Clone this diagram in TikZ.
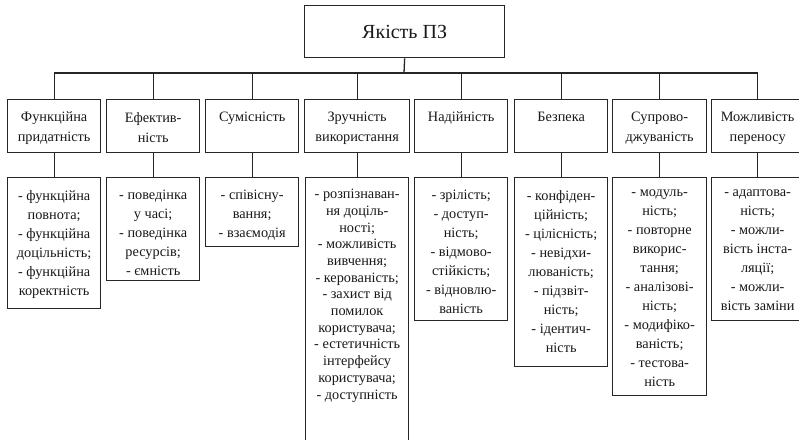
\documentclass[tikz,border=0pt]{standalone}
\usepackage{fontspec}
\setmainfont{Liberation Serif}
\begin{document}
\begin{tikzpicture}[x=1pt,y=-1pt,
  frame/.style={draw=black!85, line width=1.3pt, inner sep=0pt, anchor=north west},
  link/.style={draw=black!85, line width=1.3pt},
  lbl/.style={anchor=north, inner sep=0pt, align=center, text=black!90,
    font=\fontsize{14.3}{19}\selectfont},
  head/.style={lbl, font=\fontsize{14.3}{20}\selectfont},
  tight/.style={font=\fontsize{14.3}{16.7}\selectfont}]
\useasboundingbox[fill=white] (0,0) rectangle (799,439);

% root
\node[frame, minimum width=200, minimum height=52] (top) at (304,5) {};
\node[lbl, anchor=center, font=\fontsize{20}{22}\selectfont] (toptxt) at (top.center) {Якість ПЗ};

% characteristic boxes
\node[frame, minimum width=93, minimum height=53] (r1) at (7,99) {};
\node[frame, minimum width=93, minimum height=53] (r2) at (106,99) {};
\node[frame, minimum width=93, minimum height=53] (r3) at (205,99) {};
\node[frame, minimum width=105, minimum height=53] (r4) at (304,99) {};
\node[frame, minimum width=93, minimum height=53] (r5) at (414,99) {};
\node[frame, minimum width=93, minimum height=53] (r6) at (514,99) {};
\node[frame, minimum width=94, minimum height=53] (r7) at (612,99) {};
\node[frame, minimum width=92, minimum height=53] (r8) at (711,99) {};

\node[head] (t1) at ([yshift=-13]r1.north) {Функційна\\придатність};
\node[head] (t2) at ([yshift=-13]r2.north) {Ефектив-\\ність};
\node[head] (t3) at ([yshift=-13]r3.north) {Сумісність};
\node[head] (t4) at ([yshift=-13]r4.north) {Зручність\\використання};
\node[head] (t5) at ([yshift=-13]r5.north) {Надійність};
\node[head] (t6) at ([yshift=-13]r6.north) {Безпека};
\node[head] (t7) at ([yshift=-13]r7.north) {Супрово-\\джуваність};
\node[head] (t8) at ([yshift=-13]r8.north) {Можливість\\переносу};

% sub-characteristic boxes
\node[frame, minimum width=93, minimum height=131] (s1) at (7,177) {};
\node[frame, minimum width=93, minimum height=103] (s2) at (106,177) {};
\node[frame, minimum width=93, minimum height=69] (s3) at (205,177) {};
\node[frame, minimum width=103, minimum height=290] (s4) at (305,177) {};
\node[frame, minimum width=93, minimum height=143] (s5) at (414,177) {};
\node[frame, minimum width=93, minimum height=189] (s6) at (514,177) {};
\node[frame, minimum width=94, minimum height=218] (s7) at (612,177) {};
\node[frame, minimum width=92, minimum height=143] (s8) at (711,177) {};

\node[lbl] (u1) at ([yshift=-13]s1.north) {- функційна\\повнота;\\- функційна\\доцільність;\\- функційна\\коректність};
\node[lbl] (u2) at ([yshift=-13]s2.north) {- поведінка\\у часі;\\- поведінка\\ресурсів;\\- ємність};
\node[lbl] (u3) at ([yshift=-13]s3.north) {- співісну-\\вання;\\- взаємодія};
\node[lbl, tight] (u4) at ([yshift=-12]s4.north) {- розпізнаван-\\ня доціль-\\ності;\\- можливість\\вивчення;\\- керованість;\\- захист від\\помилок\\користувача;\\- естетичність\\інтерфейсу\\користувача;\\- доступність};
\node[lbl] (u5) at ([yshift=-13]s5.north) {- зрілість;\\- доступ-\\ність;\\- відмово-\\стійкість;\\- відновлю-\\ваність};
\node[lbl] (u6) at ([yshift=-13]s6.north) {- конфіден-\\ційність;\\- цілісність;\\- невідхи-\\люваність;\\- підзвіт-\\ність;\\- ідентич-\\ність};
\node[lbl] (u7) at ([yshift=-13]s7.north) {- модуль-\\ність;\\- повторне\\викорис-\\тання;\\- аналізові-\\ність;\\- модифіко-\\ваність;\\- тестова-\\ність};
\node[lbl] (u8) at ([yshift=-13]s8.north) {- адаптова-\\ність;\\- можли-\\вість інста-\\ляції;\\- можли-\\вість заміни};

% tree connectors
\coordinate (bus) at (404,73);
\draw[link] (top.south) -- (bus);
\draw[link] (r1.north |- bus) -- (r8.north |- bus);
\foreach \i in {1,...,8}{
  \draw[link] (r\i.north |- bus) -- (r\i.north);
  \draw[link] (r\i.south) -- (s\i.north);
}
\end{tikzpicture}
\end{document}
